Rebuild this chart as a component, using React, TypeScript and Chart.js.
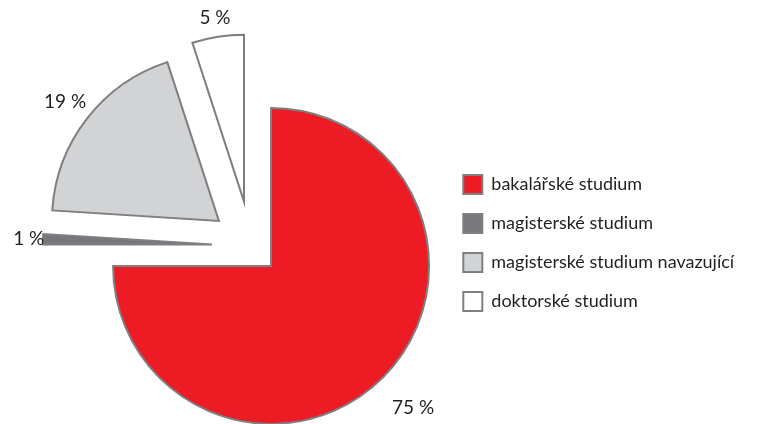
import React, { useEffect, useRef } from 'react';
import { Chart, registerables } from 'chart.js';

Chart.register(...registerables);

// ---- data ----
const CATEGORIES = [
  'bakalářské studium',
  'magisterské studium',
  'magisterské studium navazující',
  'doktorské studium',
];
const VALUES = [75, 1, 19, 5];
const VALUE_LABELS = ['75 %', '1 %', '19 %', '5 %'];

// ---- style ----
const COLORS = ['#ED1C24', '#77787B', '#D1D3D4', '#FFFFFF'];
const BORDER = '#7E7F82';
const EXPLODE = [28.4, 39.1, 40.6, 44.7];
const SLICE_RADIUS = [158, 169, 167, 167];
const LABEL_GAP = [42.8, 14.3, 27.6, 18.7];
const TEXT_COLOR = '#231F20';
const FONT = 'Lato';
const LEGEND_FONT_SIZE = 18;
const LEGEND_BOX = 19;
const LEGEND_PAD = 20;

const W = 757;
const H = 424;
const CENTER_X = 251;
const CENTER_Y = 245.8;
const LEGEND_LEFT = 443.3;
const LEGEND_TOP = 155;

const explodePlugin = {
  id: 'explodeSlices',
  afterDatasetsUpdate(chart: any) {
    const meta = chart.getDatasetMeta(0);
    const a = chart.chartArea;
    const cx = (a.left + a.right) / 2;
    const cy = (a.top + a.bottom) / 2;
    meta.data.forEach((el: any, i: number) => {
      const mid = (el.startAngle + el.endAngle) / 2;
      el.x = cx + Math.cos(mid) * EXPLODE[i];
      el.y = cy + Math.sin(mid) * EXPLODE[i];
      el.outerRadius = SLICE_RADIUS[i];
    });
  },
  afterDatasetsDraw(chart: any) {
    const meta = chart.getDatasetMeta(0);
    const ctx = chart.ctx;
    ctx.save();
    ctx.font = `19px ${FONT}`;
    ctx.fillStyle = TEXT_COLOR;
    ctx.textAlign = 'center';
    ctx.textBaseline = 'middle';
    meta.data.forEach((el: any, i: number) => {
      const mid = (el.startAngle + el.endAngle) / 2;
      const d = el.outerRadius + LABEL_GAP[i];
      ctx.fillText(VALUE_LABELS[i], el.x + Math.cos(mid) * d, el.y + Math.sin(mid) * d);
    });
    ctx.restore();
  },
};

export default function App() {
  const ref = useRef<HTMLCanvasElement>(null);

  useEffect(() => {
    if (!ref.current) return;
    // measure legend width to place it
    const mctx = document.createElement('canvas').getContext('2d')!;
    mctx.font = `${LEGEND_FONT_SIZE}px ${FONT}`;
    const maxText = Math.max(...CATEGORIES.map((c) => mctx.measureText(c).width));
    const legendWidth = LEGEND_PAD + LEGEND_BOX + LEGEND_FONT_SIZE / 2 + maxText + 10;
    const padRight = W - LEGEND_LEFT - legendWidth;
    const padLeft = 2 * CENTER_X - LEGEND_LEFT;
    const padTop = LEGEND_TOP;
    const padBottom = H - (2 * CENTER_Y - LEGEND_TOP);

    Chart.defaults.font.family = FONT;
    Chart.defaults.color = TEXT_COLOR;

    const chart = new Chart(ref.current, {
      type: 'pie',
      data: {
        labels: CATEGORIES,
        datasets: [
          {
            data: VALUES,
            backgroundColor: COLORS,
            borderColor: BORDER,
            borderWidth: 2,
            borderJoinStyle: 'miter',
            radius: SLICE_RADIUS[0],
            clip: false,
          } as any,
        ],
      },
      options: {
        responsive: false,
        animation: false,
        layout: {
          padding: { left: padLeft, right: padRight, top: padTop, bottom: padBottom },
        },
        plugins: {
          legend: {
            position: 'right',
            align: 'start',
            labels: {
              boxWidth: LEGEND_BOX,
              boxHeight: LEGEND_BOX,
              padding: LEGEND_PAD,
              color: TEXT_COLOR,
              font: { size: LEGEND_FONT_SIZE, family: FONT },
            },
          },
          tooltip: { enabled: false },
        },
      },
      plugins: [explodePlugin],
    });
    return () => chart.destroy();
  }, []);

  return (
    <div style={{ position: 'absolute', left: 0, top: 0, width: W, height: H, background: '#fff' }}>
      <canvas ref={ref} width={W} height={H} style={{ display: 'block' }} />
    </div>
  );
}
